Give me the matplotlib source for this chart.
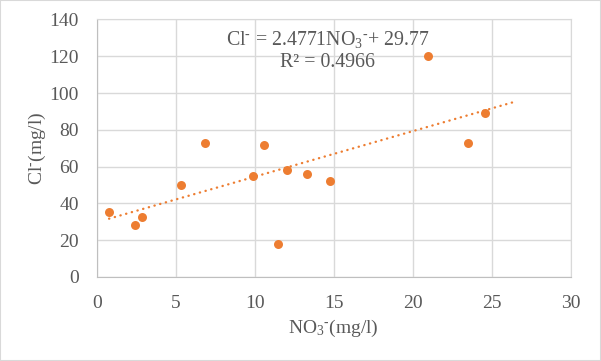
import matplotlib
matplotlib.use("Agg")
import matplotlib.pyplot as plt
from matplotlib.patches import Rectangle
import numpy as np

plt.rcParams['font.family'] = ['Liberation Serif', 'DejaVu Serif']
plt.rcParams['mathtext.fontset'] = 'custom'
plt.rcParams['mathtext.rm'] = 'Liberation Serif'
plt.rcParams['mathtext.it'] = 'Liberation Serif:italic'

no3 = [0.78, 2.43, 2.87, 5.33, 6.85, 9.86, 10.56, 11.47, 12.01, 13.30, 14.76, 20.93, 23.49, 24.54]
cl = [35.3, 28.2, 32.6, 50.0, 72.8, 55.1, 71.7, 17.9, 58.2, 56.0, 52.2, 120.1, 72.8, 89.1]
slope = 2.4771
intercept = 29.77
r2 = 0.4966
forecast_forward = 1.9
x_ticks = [0, 5, 10, 15, 20, 25, 30]
y_ticks = [0, 20, 40, 60, 80, 100, 120, 140]

txt = '#595959'
grid = '#d9d9d9'
orange = '#ED7D31'

fig = plt.figure(figsize=(6.01, 3.61), dpi=100)
fig.patches.append(Rectangle((0, 0), 1, 1, transform=fig.transFigure, fill=False,
                             edgecolor=grid, linewidth=1.5))
ax = fig.add_axes([0.161, 0.2327, 0.789, 0.7133])
ax.set_xlim(0, 30)
ax.set_ylim(0, 140)
ax.set_xticks(x_ticks)
ax.set_yticks(y_ticks)
ax.grid(True, color=grid, linewidth=1)
ax.set_axisbelow(True)
for s in ax.spines.values():
    s.set_color(grid)
ax.spines['left'].set_color('#bfbfbf')
ax.spines['bottom'].set_color('#bfbfbf')
ax.tick_params(length=0, labelsize=14, labelcolor=txt)
ax.tick_params(axis='x', pad=13)
ax.tick_params(axis='y', pad=13)

xs = np.array([min(no3), max(no3) + forecast_forward])
ax.plot(xs, slope * xs + intercept, color=orange, linewidth=1.7,
        linestyle=(0, (0.1, 2.4)), dash_capstyle='round', zorder=2)
ax.scatter(no3, cl, s=42, color=orange, zorder=3, linewidths=0)

sup = r'$^{\text{-}}$'
ax.set_xlabel(r'NO$_{3}$' + sup + '(mg/l)', fontsize=14, color=txt, labelpad=4)
ax.set_ylabel(r'Cl' + sup + '(mg/l)', fontsize=14, color=txt, labelpad=1)

fig.text(327.5 / 601, 1 - 40 / 361, r'Cl' + sup + r' = %.4fNO$_{3}$' % slope + sup + '+ %.2f' % intercept,
         ha='center', va='center', fontsize=14.3, color=txt)
fig.text(327.5 / 601, 1 - 62.5 / 361, r'R² = %.4f' % r2,
         ha='center', va='center', fontsize=14.3, color=txt)

fig.savefig('out.png', dpi=100)
